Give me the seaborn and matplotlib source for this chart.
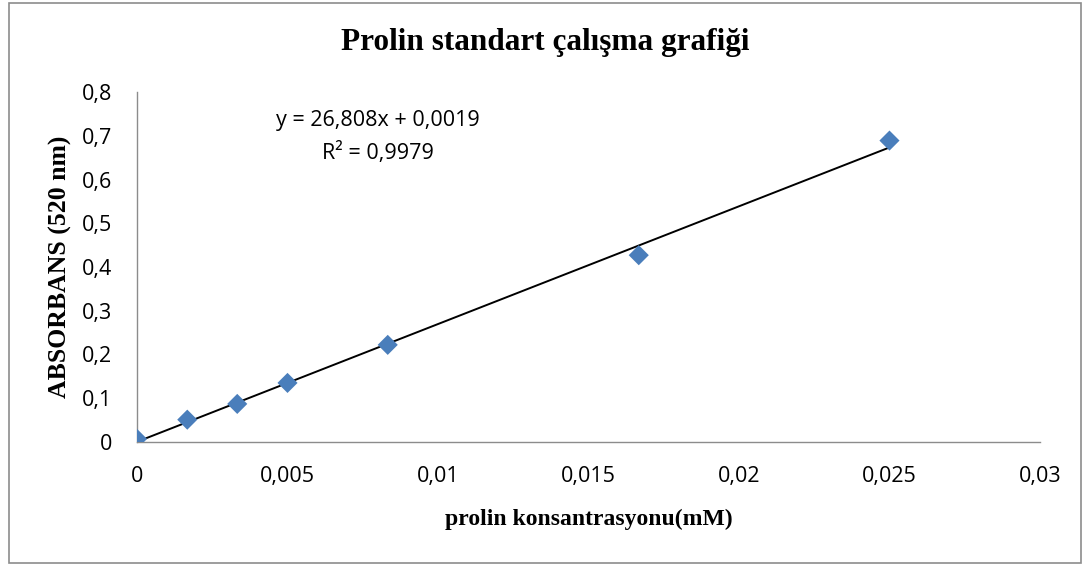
import numpy as np
import pandas as pd
import matplotlib
matplotlib.use("Agg")
import matplotlib.pyplot as plt
import seaborn as sns
from matplotlib.patches import Rectangle
from matplotlib.ticker import FuncFormatter, MultipleLocator

# veriler
konsantrasyon = [0.0, 0.00167, 0.00333, 0.005, 0.00833, 0.01667, 0.025]
absorbans = [0.007, 0.051, 0.087, 0.135, 0.222, 0.427, 0.689]
denklem = "y = 26,808x + 0,0019"
r_kare = "R² = 0,9979"

sns.set_style("white")
plt.rcParams['font.family'] = ['Open Sans', 'DejaVu Sans']
plt.rcParams['text.color'] = 'black'
plt.rcParams['xtick.color'] = 'black'
plt.rcParams['ytick.color'] = 'black'
plt.rcParams['axes.labelcolor'] = 'black'

df = pd.DataFrame({'x': konsantrasyon, 'y': absorbans})

fig = plt.figure(figsize=(10.9, 5.67), dpi=100)
ax = fig.add_axes([0.1257, 0.2205, 0.8284, 0.6172])

# trend çizgisi
sns.regplot(data=df, x='x', y='y', ax=ax, ci=None, truncate=True, scatter=False,
            line_kws={'color': 'black', 'linewidth': 1.4})
# noktalar
sns.scatterplot(data=df, x='x', y='y', ax=ax, marker='D', s=105,
                color='#4A7EBB', edgecolor='none', zorder=3)

ax.set_xlim(0, 0.03)
ax.set_ylim(0, 0.8)
ax.xaxis.set_major_locator(MultipleLocator(0.005))
ax.yaxis.set_major_locator(MultipleLocator(0.1))
fmt = FuncFormatter(lambda v, p: f"{v:g}".replace('.', ','))
ax.xaxis.set_major_formatter(fmt)
ax.yaxis.set_major_formatter(fmt)
ax.tick_params(axis='both', length=0, labelsize=15.5)
ax.tick_params(axis='x', pad=17)
ax.tick_params(axis='y', pad=18)

for s in ['top', 'right']:
    ax.spines[s].set_visible(False)
for s in ['left', 'bottom']:
    ax.spines[s].set_color('#8c8c8c')
    ax.spines[s].set_linewidth(1.0)

ax.set_xlabel('prolin konsantrasyonu(mM)', family='Liberation Serif',
              fontweight='bold', fontsize=17, labelpad=16)
ax.set_ylabel('ABSORBANS (520 nm)', family='Liberation Serif',
              fontweight='bold', fontsize=18.5, labelpad=7)
fig.text(0.5, 0.925, 'Prolin standart çalışma grafiği', family='Liberation Serif',
         fontweight='bold', fontsize=22.5, ha='center', va='center')

ax.text(0.267, 0.92, denklem, transform=ax.transAxes, ha='center', va='center', fontsize=15.5)
ax.text(0.267, 0.825, r_kare, transform=ax.transAxes, ha='center', va='center', fontsize=15.5)

# dış çerçeve
fig.patches.append(Rectangle((0.008, 0.007), 0.984, 0.987, transform=fig.transFigure,
                             fill=False, edgecolor='#8c8c8c', linewidth=1.2))

fig.savefig('out.png', dpi=100)
